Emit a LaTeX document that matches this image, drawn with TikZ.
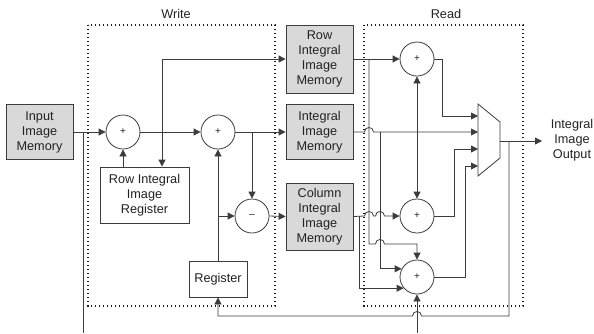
\documentclass[tikz,border=0pt]{standalone}
\usepackage{fontspec}
\setmainfont{Liberation Sans}
\usetikzlibrary{arrows.meta}
\definecolor{ln}{HTML}{3C3C3C}
\definecolor{txt}{HTML}{222222}
\definecolor{memfill}{HTML}{D9D9D9}
\definecolor{dotc}{HTML}{1A1A1A}
\begin{document}
\begin{tikzpicture}[x=1pt,y=-1pt,
  font=\fontsize{12.7}{15}\selectfont,
  every node/.style={text=txt},
  wire/.style={draw=ln, line width=0.8pt},
  arr/.style={wire, -{Triangle[length=7pt,width=7pt]}},
  mem/.style={draw=ln, fill=memfill, line width=0.8pt, minimum width=67pt, align=center, inner sep=0pt},
  box/.style={draw=ln, fill=white, line width=0.8pt, align=center, inner sep=0pt},
  adder/.style={circle, draw=ln, fill=white, line width=0.8pt, minimum size=34pt, inner sep=0pt, font=\fontsize{10}{12}\selectfont},
  region/.style={draw=dotc, line width=1.3pt, dash pattern=on 1.3pt off 2.7pt},
]
\useasboundingbox (0,0) rectangle (594,333);

% regions
\draw[region] (88,25) rectangle (275,306);
\draw[region] (364,25) rectangle (523,306);
\node (wlab) at (176,14) {Write};
\node (rlab) at (446,14) {Read};

% nodes
\node[mem, minimum height=55pt] (in) at (39.5,132) {Input\\Image\\Memory};
\node[adder] (c1) at (123,132) {+};
\node[adder] (c2) at (218,132) {+};
\node[box, minimum width=89pt, minimum height=56pt] (rreg) at (144.5,195) {Row Integral\\Image\\Register};
\node[adder] (cm) at (252,216) {--};
\node[box, minimum width=58pt, minimum height=36pt] (reg) at (218,279) {Register};
\node[mem, minimum height=68pt] (rmem) at (319.5,59) {Row\\Integral\\Image\\Memory};
\node[mem, minimum height=55pt] (imem) at (319.5,132) {Integral\\Image\\Memory};
\node[mem, minimum height=67pt] (cmem) at (319.5,216.5) {Column\\Integral\\Image\\Memory};
\node[adder] (r1) at (417,59) {+};
\node[adder] (r2) at (417,216) {+};
\node[adder] (r3) at (417,277) {+};
\node[align=center, inner sep=0pt] (out) at (572,140) {Integral\\Image\\Output};

% multiplexer
\draw[wire, fill=white] (478,104) -- (500,122) -- (500,158) -- (478,176) -- cycle;
\coordinate (m1) at (478,116);
\coordinate (m2) at (478,132);
\coordinate (m3) at (478,149);
\coordinate (m4) at (478,166);
\coordinate (mo) at (500,141);
\coordinate (outa) at (542,141);

% junctions / free ends
\coordinate (ib) at (83,132);
\coordinate (ie) at (83,333);
\coordinate (j1) at (162,132);
\coordinate (j2) at (252,132);
\coordinate (j3) at (218,216);
\coordinate (vA) at (369,59);
\coordinate (vB) at (380,132);
\coordinate (vC) at (359,216);
\coordinate (vD) at (417,132);
\coordinate (j4) at (509,141);
\coordinate (bi) at (417,333);

% write side
\draw[arr] (in.east) -- (c1.west);
\draw[wire] (ib) -- (ie);
\draw[arr] (c1.east) -- (c2.west);
\draw[arr] (j1) -- (j1 |- rmem.west) -- (rmem.west);
\draw[arr] (j1) -- (j1 |- rreg.north);
\draw[arr] (c1 |- rreg.north) -- (c1.south);
\draw[arr] (c2.east) -- (imem.west);
\draw[arr] (j2) -- (cm.north);
\draw[arr] (reg.north) -- (c2.south);
\draw[arr] (j3) -- (cm.west);
\draw[arr] (cm.east) -- (cmem.west);

% read side
\draw[arr] (rmem.east) -- (r1.west);
\draw[arr] (vA) -- (369,244) -- (375.5,244) .. controls (375.5,238) and (384.5,238) .. (384.5,244) -- (417,244) -- (r3.north);
\draw[arr] (imem.east) -- (364.5,132) .. controls (364.5,126) and (373.5,126) .. (373.5,132) -- (m2);
\draw[arr] (vB) -- (vB |- r3.152) -- (r3.152);
\draw[arr] (vD) -- (r1.south);
\draw[arr] (vD) -- (r2.north);
\draw[arr] (cmem.east) -- (364.5,216) .. controls (364.5,210) and (373.5,210) .. (373.5,216) -- (375.5,216) .. controls (375.5,210) and (384.5,210) .. (384.5,216) -- (r2.west);
\draw[arr] (vC) -- (vC |- r3.220) -- (r3.220);
\draw[arr] (r1.east) -| ([xshift=-36pt]m1) -- (m1);
\draw[arr] (r2.east) -| ([xshift=-24pt]m3) -- (m3);
\draw[arr] (r3.east) -| ([xshift=-13pt]m4) -- (m4);
\draw[arr] (mo) -- (outa);
\draw[arr] (j4) -- (509,316) -- (421.5,316) .. controls (421.5,310) and (412.5,310) .. (412.5,316) -- (218,316) -- (reg.south);
\draw[arr] (bi) -- (r3.south);
\end{tikzpicture}
\end{document}
